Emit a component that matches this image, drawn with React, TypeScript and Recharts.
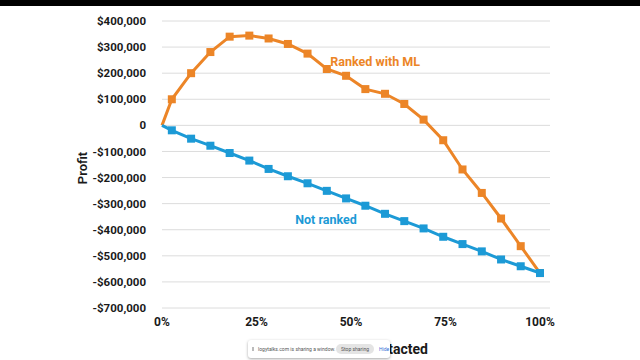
import React from 'react';
import { LineChart, Line, XAxis, YAxis, CartesianGrid, ReferenceDot } from 'recharts';

const xPct = [0, 2.6, 7.7, 12.8, 17.9, 23.1, 28.2, 33.3, 38.5, 43.6, 48.7, 53.8, 59.0, 64.1, 69.2, 74.4, 79.5, 84.6, 89.7, 94.9, 100];
const rankedWithML = [0, 100000, 200000, 281000, 340000, 344000, 333000, 312000, 275000, 216000, 190000, 139000, 121000, 82000, 22000, -57000, -169000, -259000, -357000, -463000, -566000];
const notRanked = [0, -19000, -51000, -78000, -106000, -135000, -167000, -195000, -222000, -251000, -280000, -308000, -339000, -367000, -395000, -427000, -455000, -483000, -514000, -540000, -566000];
const yTicks = [400000, 300000, 200000, 100000, 0, -100000, -200000, -300000, -400000, -500000, -600000, -700000];
const xTicks = [0, 25, 50, 75, 100];

const ORANGE = '#EC8527';
const BLUE = '#1C9AD6';
const FONT = 'Roboto, "Liberation Sans", sans-serif';

const data = xPct.map((x, i) => ({ x, ranked: rankedWithML[i], notRanked: notRanked[i] }));

const fmtMoney = (v: number) => {
  if (v === 0) return '0';
  const s = '$' + Math.abs(v).toLocaleString('en-US');
  return v < 0 ? '-' + s : s;
};

const squareDot = (color: string) => (props: any) => {
  const { cx, cy, index } = props;
  if (index === 0 || cx == null || cy == null) return <g key={`d${index}`} />;
  return <rect key={`d${index}`} x={cx - 4} y={cy - 4} width={8} height={8} fill={color} />;
};

export default function App() {
  return (
    <div style={{ position: 'fixed', left: 0, top: 0, width: 640, height: 360, background: '#fff', fontFamily: FONT, overflow: 'hidden' }}>
      <style>{`html,body{margin:0;background:#fff;}`}</style>
      <div style={{ position: 'absolute', left: 0, top: 0, width: 640, height: 6, background: '#000' }} />
      <LineChart width={640} height={360} data={data} margin={{ top: 21, right: 90, bottom: 22, left: 62 }}>
        <CartesianGrid vertical={false} stroke="#dcdcdc" strokeWidth={1} />
        <XAxis
          type="number"
          dataKey="x"
          domain={[0, 100]}
          ticks={xTicks}
          tickFormatter={(v: number) => `${v}%`}
          padding={{ left: 0, right: 10 }}
          axisLine={false}
          tickLine={false}
          height={30}
          tickMargin={3}
          tick={{ fill: '#1a1a1a', fontSize: 12, fontWeight: 700, fontFamily: FONT }}
        />
        <YAxis
          type="number"
          domain={[-700000, 400000]}
          ticks={yTicks}
          interval={0}
          tickFormatter={fmtMoney}
          axisLine={false}
          tickLine={false}
          width={100}
          tickMargin={10}
          tick={{ fill: '#1a1a1a', fontSize: 11.5, fontWeight: 700, fontFamily: FONT }}
        />
        <Line
          type="linear"
          dataKey="ranked"
          stroke={ORANGE}
          strokeWidth={3}
          dot={squareDot(ORANGE)}
          activeDot={false}
          isAnimationActive={false}
        />
        <Line
          type="linear"
          dataKey="notRanked"
          stroke={BLUE}
          strokeWidth={3}
          dot={squareDot(BLUE)}
          activeDot={false}
          isAnimationActive={false}
        />
        <ReferenceDot
          x={56.4}
          y={244000}
          r={0}
          fill="none"
          stroke="none"
          label={{ value: 'Ranked with ML', position: 'center', fill: ORANGE, fontSize: 12.5, fontWeight: 700, fontFamily: FONT }}
        />
        <ReferenceDot
          x={43.4}
          y={-360000}
          r={0}
          fill="none"
          stroke="none"
          label={{ value: 'Not ranked', position: 'center', fill: BLUE, fontSize: 12.5, fontWeight: 700, fontFamily: FONT }}
        />
      </LineChart>
      <div style={{ position: 'absolute', left: 63, top: 160, width: 40, height: 16, lineHeight: '16px', textAlign: 'center', transform: 'rotate(-90deg)', fontSize: 13, fontWeight: 600, color: '#1a1a1a' }}>Profit</div>
      <div style={{ position: 'absolute', right: 640 - 428, top: 340, height: 18, lineHeight: '18px', fontSize: 14, fontWeight: 700, color: '#1a1a1a', whiteSpace: 'nowrap' }}>Percent Contacted</div>
      <div style={{ position: 'absolute', left: 248, top: 340, width: 142, height: 18, background: '#fff', borderRadius: 3, boxShadow: '0 1px 3px rgba(0,0,0,0.35)', fontSize: 5, color: '#555' }}>
        <span style={{ position: 'absolute', left: 4, top: 7, width: 2, height: 4, background: '#bbb' }} />
        <span style={{ position: 'absolute', left: 10, top: 6, lineHeight: '6px', whiteSpace: 'nowrap' }}>logytalks.com is sharing a window.</span>
        <span style={{ position: 'absolute', left: 88, top: 4, width: 38, height: 10, lineHeight: '10px', borderRadius: 5, background: '#e4e4e4', textAlign: 'center', whiteSpace: 'nowrap' }}>Stop sharing</span>
        <span style={{ position: 'absolute', left: 131, top: 6, lineHeight: '6px', color: '#3b6fd6' }}>Hide</span>
      </div>
    </div>
  );
}
